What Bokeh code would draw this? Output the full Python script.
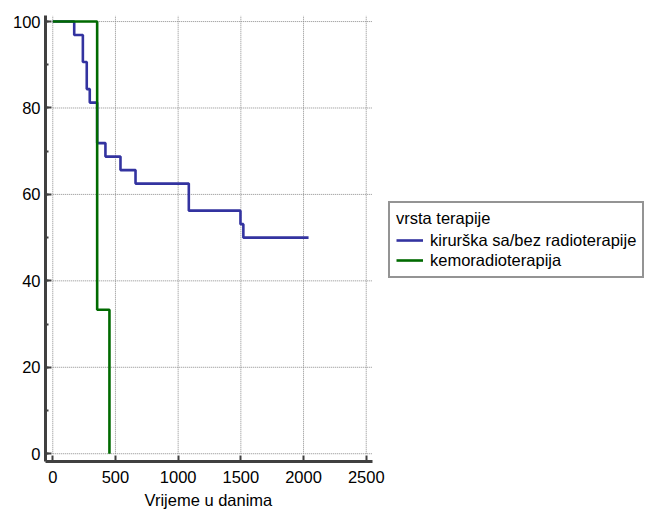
from bokeh.plotting import figure
from bokeh.models import Range1d, SingleIntervalTicker, Legend, LegendItem, Title
from bokeh.embed import file_html
from bokeh.resources import INLINE

# Kaplan-Meier survival (%) by therapy type, times in days
surg_days = [0, 171, 240, 271, 295, 354, 420, 540, 660, 1085, 1497, 1520, 2040]
surg_surv = [100, 96.875, 90.625, 84.375, 81.25, 71.875, 68.75, 65.625, 62.5, 56.25, 53.125, 50, 50]

chemo_days = [0, 354, 452]
chemo_surv = [100, 33.33, 0]

x_ticks = [0, 500, 1000, 1500, 2000, 2500]
y_ticks = [0, 20, 40, 60, 80, 100]

FONT = "Liberation Sans"
FS = "16.5px"

# plotting area limits (data units); the canvas extends further right for the legend
X_MIN, X_MAX = -58, 2550
Y_MIN, Y_MAX = -1.8, 101.4
PX_PER_DAY = 327 / (X_MAX - X_MIN)
CANVAS_W = 647
FRAME_LEFT = 45
x_end = X_MIN + (CANVAS_W - FRAME_LEFT) / PX_PER_DAY

p = figure(
    width=CANVAS_W, height=511,
    x_range=Range1d(X_MIN, x_end), y_range=Range1d(Y_MIN, Y_MAX),
    output_backend="svg", toolbar_location=None,
    min_border_left=FRAME_LEFT, min_border_right=0, min_border_top=15, min_border_bottom=49,
)
p.outline_line_color = None
p.background_fill_color = "white"
p.border_fill_color = "white"
p.grid.visible = False

# axes
p.xaxis.ticker = SingleIntervalTicker(interval=500, num_minor_ticks=0)
p.yaxis.ticker = SingleIntervalTicker(interval=20, num_minor_ticks=2)
p.xaxis.bounds = (X_MIN, X_MAX)
for ax in (p.xaxis[0], p.yaxis[0]):
    ax.axis_line_color = "#404040"
    ax.axis_line_width = 3
    ax.major_tick_line_color = "#404040"
    ax.major_tick_line_width = 2
    ax.major_tick_in = 6
    ax.major_tick_out = 0
    ax.minor_tick_line_color = "#404040"
    ax.minor_tick_line_width = 2
    ax.minor_tick_in = 3
    ax.minor_tick_out = 0
    ax.major_label_text_font = FONT
    ax.major_label_text_font_size = FS
    ax.major_label_text_color = "black"
p.yaxis.major_label_standoff = 5
p.xaxis.major_label_standoff = 9

# x-axis title, centred under the plotted span rather than the whole canvas
x_title = Title(
    text="Vrijeme u danima", align="left", offset=99, standoff=6,
    text_font=FONT, text_font_size=FS, text_font_style="normal", text_color="black",
)
p.add_layout(x_title, "below")

# dotted grid, limited to the data region
grid_style = dict(line_color="#8c8c8c", line_dash="1 1", line_width=1)
p.segment(x0=x_ticks, x1=x_ticks, y0=[0] * len(x_ticks), y1=[Y_MAX] * len(x_ticks), **grid_style)
p.segment(x0=[0] * len(y_ticks), x1=[X_MAX] * len(y_ticks), y0=y_ticks, y1=y_ticks, **grid_style)

r_surg = p.step(surg_days, surg_surv, mode="after", line_color="#3333a0", line_width=2.6)
r_chemo = p.step(chemo_days, chemo_surv, mode="after", line_color="#006a00", line_width=2.6)

legend = Legend(
    items=[
        LegendItem(label="kirurška sa/bez radioterapije", renderers=[r_surg]),
        LegendItem(label="kemoradioterapija", renderers=[r_chemo]),
    ],
    title="vrsta terapije",
    location=(343, 183),
)
legend.title_text_font = FONT
legend.title_text_font_size = FS
legend.title_text_font_style = "normal"
legend.title_text_color = "black"
legend.label_text_font = FONT
legend.label_text_font_size = FS
legend.label_text_color = "black"
legend.border_line_color = "#2a2a2a"
legend.border_line_width = 2
legend.background_fill_color = "white"
legend.background_fill_alpha = 1
legend.padding = 6
legend.margin = 0
legend.spacing = 0
legend.label_height = 20
legend.glyph_height = 20
legend.glyph_width = 27
legend.label_standoff = 7
legend.title_standoff = 2
p.add_layout(legend, "center")

open("out.html", "w").write(file_html(p, INLINE))
